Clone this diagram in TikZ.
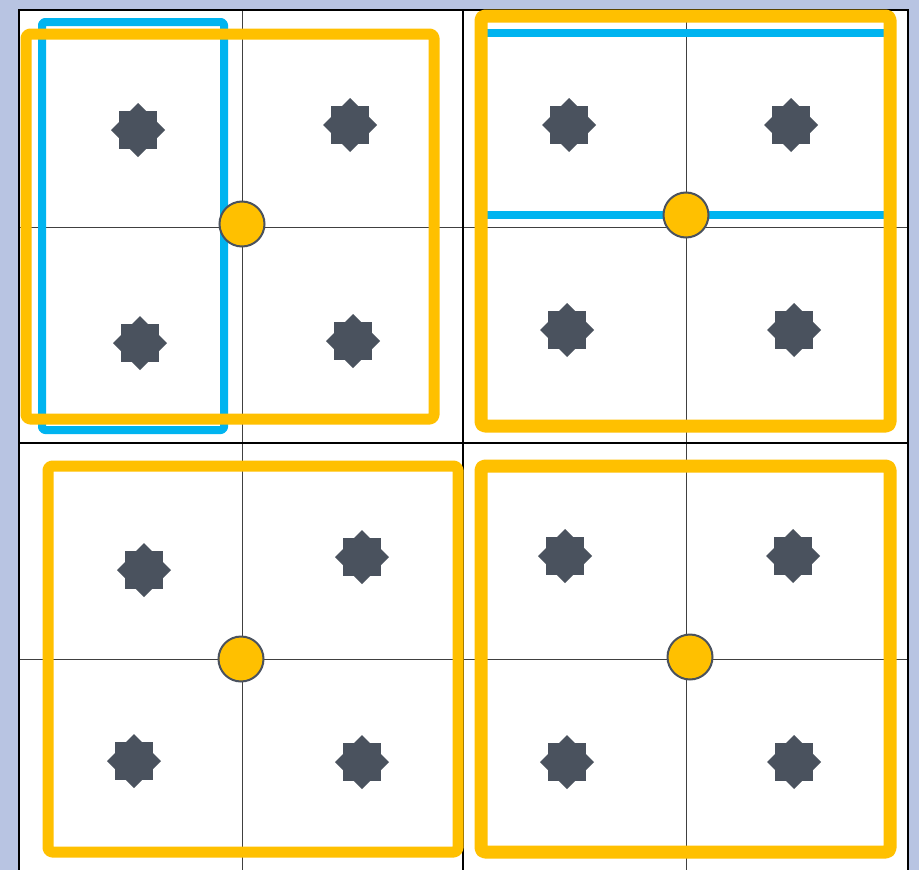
\documentclass[tikz,border=0pt]{standalone}
\usetikzlibrary{calc}
\definecolor{bgc}{HTML}{B8C4E2}
\definecolor{cyanc}{HTML}{00B4F0}
\definecolor{yelc}{HTML}{FFC000}
\definecolor{slatec}{HTML}{4A525E}
\tikzset{
  thinline/.style={draw=black!75, line width=0.9pt},
  thickline/.style={draw=black, line width=2pt},
  bluebox/.style={draw=cyanc, line width=8pt, rounded corners=3pt, line join=round},
  yelbox/.style={draw=yelc, line width=11pt, rounded corners=4pt, line join=round},
  yelboxw/.style={draw=yelc, line width=13pt, rounded corners=4pt, line join=round},
  centerdot/.style={circle, fill=yelc, draw=slatec, line width=2pt, minimum size=45pt, inner sep=0pt},
}
\newcommand{\mystar}[2]{%
  \fill[slatec] (#1,#2) +(45:27) -- +(135:27) -- +(225:27) -- +(315:27) -- cycle;
  \fill[slatec] (#1,#2) +(0:27) -- +(90:27) -- +(180:27) -- +(270:27) -- cycle;
}
\begin{document}
\begin{tikzpicture}[x=1pt,y=-1pt]
\useasboundingbox (0,0) rectangle (919,870);
\fill[bgc] (0,0) rectangle (919,870);
\fill[white] (19,10) rectangle (908,880);
% thin grid
\draw[thinline] (242,10) -- (242,880);
\draw[thinline] (686,10) -- (686,880);
\draw[thinline] (19,227) -- (908,227);
\draw[thinline] (19,659) -- (908,659);
% thick grid
\draw[thickline] (19,880) -- (19,10) -- (908,10) -- (908,880);
\draw[thickline] (463,10) -- (463,880);
\draw[thickline] (19,443) -- (908,443);
% blue
\draw[bluebox] (42,22) rectangle (224,430);
\draw[draw=cyanc, line width=8pt] (487,33) -- (884,33);
\draw[draw=cyanc, line width=8pt] (487,215) -- (884,215);
% yellow
\draw[yelbox] (26,34) rectangle (434,419);
\draw[yelboxw] (481,16) rectangle (890,426);
\draw[yelbox] (48,466) rectangle (458,852);
\draw[yelboxw] (481,466) rectangle (890,852);
% circles
\node[centerdot] (c1) at (242,224) {};
\node[centerdot] (c2) at (686,215) {};
\node[centerdot] (c3) at (241,659) {};
\node[centerdot] (c4) at (690,657) {};
% stars
\mystar{138}{130}\mystar{350}{125}\mystar{140}{343}\mystar{353}{341}
\mystar{569}{125}\mystar{791}{125}\mystar{567}{330}\mystar{794}{330}
\mystar{144}{570}\mystar{362}{557}\mystar{134}{761}\mystar{362}{762}
\mystar{565}{556}\mystar{793}{556}\mystar{567}{762}\mystar{794}{762}
\end{tikzpicture}
\end{document}
